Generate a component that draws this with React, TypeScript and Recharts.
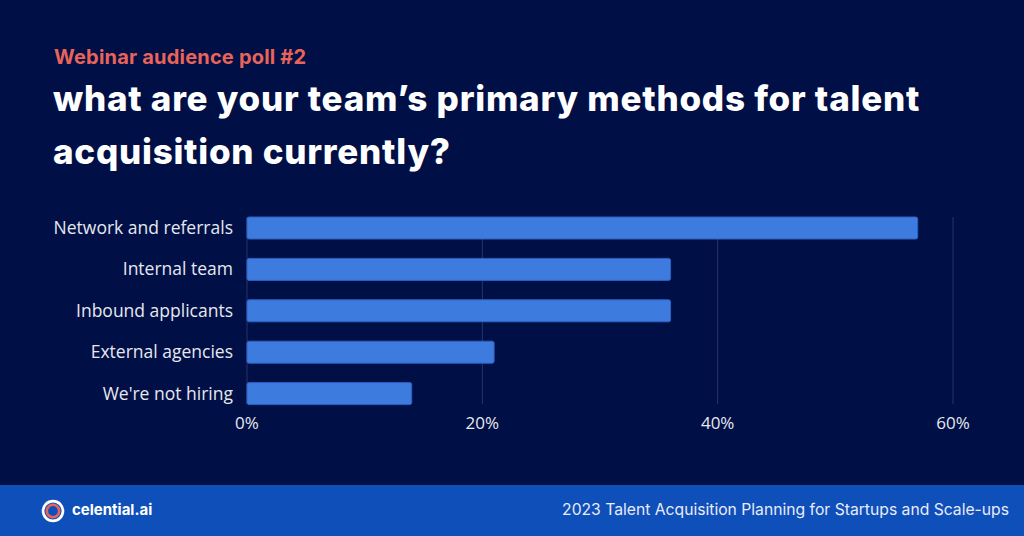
import { Bar, BarChart, CartesianGrid, XAxis, YAxis } from 'recharts';

const categories = [
  'Network and referrals',
  'Internal team',
  'Inbound applicants',
  'External agencies',
  "We're not hiring",
];
const shares = [57, 36, 36, 21, 14];
const xTicks = [0, 20, 40, 60];

const data = categories.map((name, i) => ({ name, value: shares[i] }));

const NAVY = '#000f45';
const FOOTER = '#0f4fba';
const CORAL = '#e8645a';

export default function App() {
  return (
    <div
      style={{
        position: 'absolute',
        left: 0,
        top: 0,
        width: 1024,
        height: 536,
        background: NAVY,
        overflow: 'hidden',
        fontFamily: 'Inter, sans-serif',
      }}
    >
      <div
        style={{
          position: 'absolute',
          left: 54,
          top: 45,
          color: CORAL,
          fontSize: 20,
          fontWeight: 700,
          letterSpacing: 0.2,
          lineHeight: '24px',
        }}
      >
        Webinar audience poll #2
      </div>
      <div
        style={{
          position: 'absolute',
          left: 53,
          top: 72,
          color: '#ffffff',
          fontSize: 35,
          fontWeight: 800,
          lineHeight: '53px',
          letterSpacing: 0.75,
          whiteSpace: 'nowrap',
        }}
      >
        <div>what are your team’s primary methods for talent</div>
        <div>acquisition currently?</div>
      </div>

      <div style={{ position: 'absolute', left: 0, top: 0 }}>
        <BarChart
          width={1024}
          height={536}
          data={data}
          layout="vertical"
          margin={{ top: 217, right: 71, bottom: 102, left: 0 }}
        >
          <CartesianGrid horizontal={false} stroke="#28346a" strokeWidth={1} />
          <XAxis
            type="number"
            domain={[0, 60]}
            ticks={xTicks}
            tickFormatter={(v) => `${v}%`}
            axisLine={false}
            tickLine={false}
            tickSize={0}
            tickMargin={13}
            height={30}
            tick={{ fill: '#e6e8f0', fontSize: 17, fontFamily: '"Open Sans", sans-serif' }}
          />
          <YAxis
            type="category"
            dataKey="name"
            width={247}
            axisLine={false}
            tickLine={false}
            tickSize={0}
            tickMargin={14}
            padding={{ top: -10, bottom: -10 }}
            tick={{ fill: '#e6e8f0', fontSize: 17.5, fontFamily: '"Open Sans", sans-serif' }}
          />
          <Bar
            dataKey="value"
            fill="#3d7bdf"
            stroke="#2d62c2"
            strokeWidth={1}
            barSize={22}
            radius={2}
            isAnimationActive={false}
          />
        </BarChart>
      </div>

      <div
        style={{
          position: 'absolute',
          left: 0,
          top: 485,
          width: 1024,
          height: 51,
          background: FOOTER,
        }}
      >
        <svg
          width={26}
          height={26}
          style={{ position: 'absolute', left: 40, top: 13 }}
        >
          <circle cx={13} cy={13} r={11.3} fill="#ffffff" />
          <circle cx={13} cy={13} r={8.6} fill={FOOTER} />
          <circle cx={13} cy={13} r={6.2} fill="none" stroke={CORAL} strokeWidth={2.6} />
        </svg>
        <div
          style={{
            position: 'absolute',
            left: 72,
            top: 15,
            color: '#ffffff',
            fontSize: 15,
            fontWeight: 700,
            lineHeight: '20px',
          }}
        >
          celential.ai
        </div>
        <div
          style={{
            position: 'absolute',
            right: 15,
            top: 15,
            color: '#e8ecf8',
            fontSize: 15.7,
            lineHeight: '20px',
            whiteSpace: 'nowrap',
          }}
        >
          2023 Talent Acquisition Planning for Startups and Scale-ups
        </div>
      </div>
    </div>
  );
}
